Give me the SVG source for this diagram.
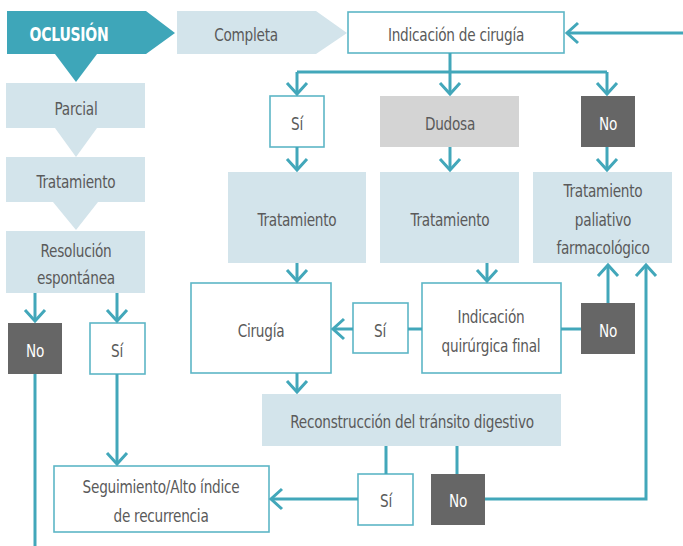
<svg xmlns="http://www.w3.org/2000/svg" width="683" height="546" viewBox="0 0 683 546">
  <style>
    .t { font-family: "DejaVu Sans Condensed", "Liberation Sans Narrow", "Liberation Sans", sans-serif; font-size: 18.5px; fill: #5a5a5a; text-anchor: middle; letter-spacing: -0.3px; }
    .w { fill: #ffffff; }
    .b { font-weight: bold; font-size: 19px; }
    .lb { fill: #d3e4eb; }
    .ob { fill: #ffffff; stroke: #5db6c6; stroke-width: 1.6; }
    .dk { fill: #666666; }
    .gr { fill: #d4d4d4; }
    .ln { fill: none; stroke: #42a7ba; stroke-width: 3; }
    .ar { marker-end: url(#ah); }
  </style>
  <defs>
    <marker id="ah" viewBox="-15 -13 18 26" refX="0" refY="0" markerWidth="18" markerHeight="26" markerUnits="userSpaceOnUse" orient="auto">
      <path d="M-11,-10 L0,0 L-11,10" fill="none" stroke="#42a7ba" stroke-width="3"/>
    </marker>
  </defs>

  <!-- Left column: occlusion type -->
  <g id="oclusion">
    <polygon points="7,11 146,11 175,33 146,54 97,54 76,82 55,54 7,54" fill="#3ea6b9"/>
    <text class="t w b" transform="translate(69,41) scale(0.82,1)">OCLUSIÓN</text>
  </g>
  <g id="completa">
    <polygon class="lb" points="177,11 316,11 347,33 316,54 177,54"/>
    <text class="t" transform="translate(246,41) scale(0.82,1)">Completa</text>
  </g>
  <g id="parcial">
    <polygon class="lb" points="6,83 145,83 145,128 97,128 76,157 55,128 6,128"/>
    <text class="t" transform="translate(76,115) scale(0.82,1)">Parcial</text>
  </g>
  <g id="tratamiento-parcial">
    <polygon class="lb" points="6,157 145,157 145,202 98,202 76,230 53,202 6,202"/>
    <text class="t" transform="translate(76,188) scale(0.82,1)">Tratamiento</text>
  </g>
  <g id="resolucion">
    <rect class="lb" x="6" y="231" width="139" height="62"/>
    <text class="t" transform="translate(76,257) scale(0.82,1)">Resolución</text>
    <text class="t" transform="translate(76,284) scale(0.82,1)">espontánea</text>
  </g>
  <g id="resolucion-no">
    <rect class="dk" x="8" y="323" width="54" height="51"/>
    <text class="t w" transform="translate(35,357) scale(0.82,1)">No</text>
  </g>
  <g id="resolucion-si">
    <rect class="ob" x="90" y="323" width="55" height="51"/>
    <text class="t" transform="translate(117,357) scale(0.82,1)">Sí</text>
  </g>
  <g id="seguimiento">
    <rect class="ob" x="54" y="466" width="215" height="66"/>
    <text class="t" transform="translate(161,493) scale(0.82,1)">Seguimiento/Alto índice</text>
    <text class="t" transform="translate(161,522) scale(0.82,1)">de recurrencia</text>
  </g>

  <!-- Surgical indication branch -->
  <g id="indicacion">
    <rect class="ob" x="348" y="12" width="216" height="41"/>
    <text class="t" transform="translate(456,41) scale(0.82,1)">Indicación de cirugía</text>
  </g>
  <g id="indicacion-si">
    <rect class="ob" x="270" y="96" width="54" height="51"/>
    <text class="t" transform="translate(297,130) scale(0.82,1)">Sí</text>
  </g>
  <g id="dudosa">
    <rect class="gr" x="380" y="96" width="139" height="51"/>
    <text class="t" transform="translate(450,130) scale(0.82,1)">Dudosa</text>
  </g>
  <g id="indicacion-no">
    <rect class="dk" x="581" y="96" width="54" height="51"/>
    <text class="t w" transform="translate(608,130) scale(0.82,1)">No</text>
  </g>
  <g id="tratamiento-si">
    <rect class="lb" x="228" y="172" width="138" height="91"/>
    <text class="t" transform="translate(297,226) scale(0.82,1)">Tratamiento</text>
  </g>
  <g id="tratamiento-dudosa">
    <rect class="lb" x="380" y="172" width="139" height="91"/>
    <text class="t" transform="translate(450,226) scale(0.82,1)">Tratamiento</text>
  </g>
  <g id="paliativo">
    <rect class="lb" x="533" y="172" width="139" height="91"/>
    <text class="t" transform="translate(603,197) scale(0.82,1)">Tratamiento</text>
    <text class="t" transform="translate(603,226) scale(0.82,1)">paliativo</text>
    <text class="t" transform="translate(603,254) scale(0.82,1)">farmacológico</text>
  </g>
  <g id="cirugia">
    <rect class="ob" x="191" y="283" width="140" height="90"/>
    <text class="t" transform="translate(261,337) scale(0.82,1)">Cirugía</text>
  </g>
  <g id="final-si">
    <rect class="ob" x="353" y="303" width="55" height="50"/>
    <text class="t" transform="translate(380,337) scale(0.82,1)">Sí</text>
  </g>
  <g id="indicacion-final">
    <rect class="ob" x="422" y="283" width="139" height="90"/>
    <text class="t" transform="translate(491,323) scale(0.82,1)">Indicación</text>
    <text class="t" transform="translate(491,352) scale(0.82,1)">quirúrgica final</text>
  </g>
  <g id="final-no">
    <rect class="dk" x="581" y="303" width="54" height="51"/>
    <text class="t w" transform="translate(608,337) scale(0.82,1)">No</text>
  </g>
  <g id="reconstruccion">
    <rect class="lb" x="262" y="394" width="299" height="52"/>
    <text class="t" transform="translate(412,428) scale(0.82,1)">Reconstrucción del tránsito digestivo</text>
  </g>
  <g id="reconstruccion-si">
    <rect class="ob" x="358" y="474" width="55" height="51"/>
    <text class="t" transform="translate(386,507) scale(0.82,1)">Sí</text>
  </g>
  <g id="reconstruccion-no">
    <rect class="dk" x="431" y="474" width="54" height="51"/>
    <text class="t w" transform="translate(458,507) scale(0.82,1)">No</text>
  </g>

  <!-- Connectors -->
  <g id="connectors">
    <path class="ln ar" d="M683,33 H567"/>
    <path class="ln" d="M450,53 V72 M297,72 H607"/>
    <path class="ln ar" d="M297,72 V94"/>
    <path class="ln ar" d="M450,72 V94"/>
    <path class="ln ar" d="M607,72 V94"/>
    <path class="ln ar" d="M297,147 V170"/>
    <path class="ln ar" d="M450,147 V170"/>
    <path class="ln ar" d="M607,147 V170"/>
    <path class="ln ar" d="M297,263 V281"/>
    <path class="ln ar" d="M487,263 V281"/>
    <path class="ln" d="M422,329 H408"/>
    <path class="ln ar" d="M353,329 H333"/>
    <path class="ln" d="M561,329 H581"/>
    <path class="ln ar" d="M608,303 V265"/>
    <path class="ln ar" d="M297,373 V392"/>
    <path class="ln" d="M386,446 V474 M457,446 V474"/>
    <path class="ln ar" d="M358,499 H271"/>
    <path class="ln ar" d="M485,499 H646 V265"/>
    <path class="ln ar" d="M35,293 V321"/>
    <path class="ln ar" d="M117,293 V321"/>
    <path class="ln" d="M35,374 V546"/>
    <path class="ln ar" d="M117,374 V464"/>
  </g>
</svg>
